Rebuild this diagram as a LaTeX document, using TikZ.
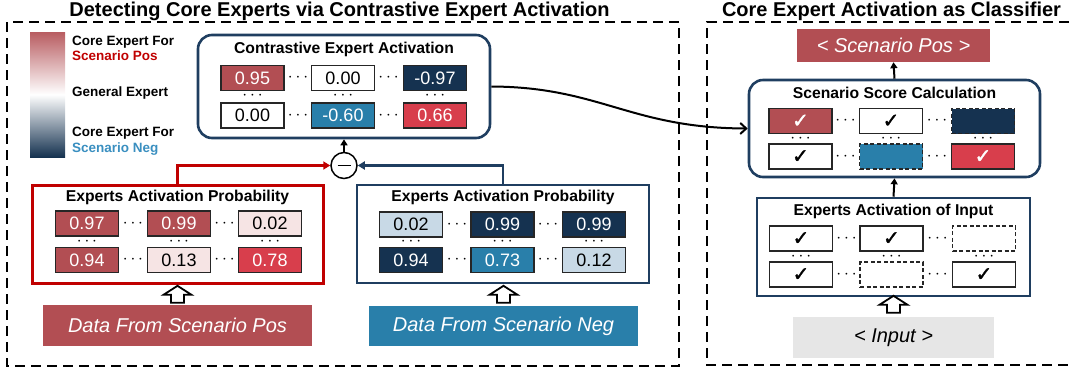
\documentclass[tikz,border=0pt]{standalone}
\usepackage{fontspec}
\setmainfont{Liberation Sans}
\newfontfamily\symfont[FakeBold=1.6]{DejaVu Sans}
\usetikzlibrary{arrows.meta,calc}
\definecolor{dred}{HTML}{B24E53}
\definecolor{bred}{HTML}{D83E4C}
\definecolor{navy}{HTML}{153250}
\definecolor{mblue}{HTML}{297FAA}
\definecolor{lpink}{HTML}{F6E4E4}
\definecolor{lblue}{HTML}{C8D9E6}
\definecolor{frame}{HTML}{1F3E60}
\definecolor{pred}{HTML}{C00000}
\definecolor{legblue}{HTML}{3A8FC0}
\definecolor{lgray}{HTML}{E6E6E6}
\newcommand\hollowarrow[1]{\draw[line width=1.8pt, fill=white, line join=miter] (#1) ++(-6.5,0) -- ++(0,-8) -- ++(-7.5,0) -- ++(14,-9) -- ++(14,9) -- ++(-7.5,0) -- ++(0,8) -- cycle;}
\begin{document}
\begin{tikzpicture}[x=1pt,y=-1pt,
  cell/.style={draw=black!85, line width=1.3pt, minimum width=63pt, minimum height=25pt, inner sep=0pt, font=\fontsize{18}{18}\selectfont},
  wcell/.style={cell, fill=#1, text=white},
  dcell/.style={cell, draw=black!85, dash pattern=on 4pt off 2.5pt},
  dotsn/.style={inner sep=0pt, font=\fontsize{19}{19}\selectfont},
  bigtitle/.style={font=\fontsize{20}{20}\selectfont\bfseries, inner sep=0pt},
  boxtitle/.style={font=\fontsize{15.7}{15.7}\selectfont\bfseries, inner sep=0pt},
  legtext/.style={font=\fontsize{13.5}{15.5}\selectfont\bfseries, align=left, anchor=west, inner sep=0pt},
  rbox/.style={draw=frame, line width=2.6pt, rounded corners=14pt, inner sep=0pt},
  sbox/.style={line width=2.6pt, inner sep=0pt},
  databox/.style={inner sep=0pt, font=\fontsize{20}{20}\selectfont\itshape},
  outer/.style={line width=2pt, dash pattern=on 10pt off 6pt},
  chk/.style={font=\symfont\fontsize{20}{20}\selectfont},
  blackarrow/.style={line width=2pt, -{Triangle[length=6pt,width=7pt]}}
]
\useasboundingbox (0,0) rectangle (1073,376);
% outer dashed frames
\draw[outer] (7,22) rectangle (679,366);
\draw[outer] (1085,22) -- (707,22) -- (707,365) -- (1085,365);
\node[bigtitle, fill=white, inner xsep=3pt] (ltitle) at (339.5,11) {Detecting Core Experts via Contrastive Expert Activation};
\node[bigtitle, fill=white, inner xsep=3pt] (rtitle) at (891.5,11) {Core Expert Activation as Classifier};
% legend
\shade[top color=dred!92, bottom color=navy, middle color=white] (30,32) rectangle (65,157);
\node[legtext] (leg1) at (72,48.5) {Core Expert For\\\textcolor{pred}{Scenario Pos}};
\node[legtext] (leg2) at (72,93) {General Expert};
\node[legtext] (leg3) at (72,141) {Core Expert For\\\textcolor{legblue}{Scenario Neg}};
% contrastive box
\node[rbox, minimum width=292pt, minimum height=103pt] (cab) at (344,86.5) {};
\node[boxtitle] (cabt) at (344,49) {Contrastive Expert Activation};
\node[wcell=dred] (c11) at (252.5,78) {0.95};
\node[cell] (c12) at (343,78) {0.00};
\node[wcell=navy] (c13) at (435,78) {-0.97};
\node[cell] (c21) at (252.5,115.5) {0.00};
\node[wcell=mblue] (c22) at (343,115.5) {-0.60};
\node[wcell=bred] (c23) at (435,115.5) {0.66};
\foreach \x/\n in {298/a,388.5/b}{\node[dotsn] (cdh1\n) at (\x,78) {$\cdots$}; \node[dotsn] (cdh2\n) at (\x,115.5) {$\cdots$};}
\foreach \x/\n in {252.5/a,343/b,435/c}{\node[dotsn] (cdv\n) at (\x,96) {$\cdots$};}
% minus circle
\node[draw, circle, line width=1.5pt, minimum size=26pt, inner sep=0pt, fill=white] (minus) at (344,165.5) {};
\draw[line width=1.5pt] ($(minus.center)+(-6.5,0)$) -- ($(minus.center)+(6.5,0)$);
\draw[blackarrow] (minus.north) -- (cab.south);
% positive probability box
\node[sbox, draw=pred, line width=3pt, minimum width=291pt, minimum height=98pt] (ppos) at (177.5,234) {};
\node[boxtitle] (ppost) at (177.5,197) {Experts Activation Probability};
\node[wcell=dred] (p11) at (87,223.5) {0.97};
\node[wcell=dred] (p12) at (179,223.5) {0.99};
\node[cell, fill=lpink] (p13) at (270,223.5) {0.02};
\node[wcell=dred] (p21) at (87,260) {0.94};
\node[cell, fill=lpink] (p22) at (179,260) {0.13};
\node[wcell=bred] (p23) at (270,260) {0.78};
\foreach \x/\n in {133/a,224.5/b}{\node[dotsn] (pdh1\n) at (\x,223.5) {$\cdots$}; \node[dotsn] (pdh2\n) at (\x,260) {$\cdots$};}
\foreach \x/\n in {87/a,179/b,270/c}{\node[dotsn] (pdv\n) at (\x,241.5) {$\cdots$};}
% negative probability box
\node[sbox, draw=frame, minimum width=292pt, minimum height=98pt] (pneg) at (503,234) {};
\node[boxtitle] (pnegt) at (503,197) {Experts Activation Probability};
\node[cell, fill=lblue] (n11) at (411,224.5) {0.02};
\node[wcell=navy] (n12) at (502.5,224.5) {0.99};
\node[wcell=navy] (n13) at (594,224.5) {0.99};
\node[wcell=navy] (n21) at (411,260) {0.94};
\node[wcell=mblue] (n22) at (502.5,260) {0.73};
\node[cell, fill=lblue] (n23) at (594,260) {0.12};
\foreach \x/\n in {457/a,548/b}{\node[dotsn] (ndh1\n) at (\x,224.5) {$\cdots$}; \node[dotsn] (ndh2\n) at (\x,260) {$\cdots$};}
\foreach \x/\n in {411/a,502.5/b,594/c}{\node[dotsn] (ndv\n) at (\x,242) {$\cdots$};}
% connectors to minus
\draw[pred, line width=2.5pt, -{Triangle[length=7pt,width=8pt]}] (ppos.north) |- (minus.west);
\draw[frame, line width=2.5pt, -{Triangle[length=7pt,width=8pt]}] (pneg.north) |- (minus.east);
% data boxes
\node[databox, fill=dred, text=white, minimum width=269pt, minimum height=41pt] (dpos) at (177.5,325.5) {Data From Scenario Pos};
\node[databox, fill=mblue, text=white, minimum width=269pt, minimum height=40pt] (dneg) at (503.5,326) {Data From Scenario Neg};
\hollowarrow{$(dpos.north)+(0,-2)$}
\hollowarrow{$(dneg.north)+(0,-3)$}
% right side
\node[databox, fill=dred, text=white, minimum width=193pt, minimum height=33pt] (outp) at (893.5,45.5) {< Scenario Pos >};
\node[rbox, minimum width=291pt, minimum height=97pt] (ssc) at (894.5,128.5) {};
\node[boxtitle] (ssct) at (894.5,93) {Scenario Score Calculation};
\node[wcell=dred, chk] (s11) at (800.5,121) {✓};
\node[cell, chk] (s12) at (891,121) {✓};
\node[dcell, fill=navy] (s13) at (983,121) {};
\node[cell, chk] (s21) at (800.5,156.5) {✓};
\node[dcell, fill=mblue] (s22) at (891,156.5) {};
\node[wcell=bred, chk] (s23) at (983,156.5) {✓};
\foreach \x/\n in {845.5/a,937/b}{\node[dotsn] (sdh1\n) at (\x,121) {$\cdots$}; \node[dotsn] (sdh2\n) at (\x,156.5) {$\cdots$};}
\foreach \x/\n in {800.5/a,891/b,983/c}{\node[dotsn] (sdv\n) at (\x,139) {$\cdots$};}
\draw[blackarrow] (ssc.north) -- (outp.south);
\node[sbox, draw=frame, minimum width=273pt, minimum height=98pt] (inp) at (893.5,247) {};
\node[boxtitle] (inpt) at (893.5,211) {Experts Activation of Input};
\node[cell, chk] (i11) at (801,238.5) {✓};
\node[cell, chk] (i12) at (891.5,238.5) {✓};
\node[dcell] (i13) at (984,238.5) {};
\node[cell, chk] (i21) at (801,274.5) {✓};
\node[dcell] (i22) at (891.5,274.5) {};
\node[cell, chk] (i23) at (984,274.5) {✓};
\foreach \x/\n in {846.5/a,937.5/b}{\node[dotsn] (idh1\n) at (\x,238.5) {$\cdots$}; \node[dotsn] (idh2\n) at (\x,274.5) {$\cdots$};}
\foreach \x/\n in {801/a,891.5/b,984/c}{\node[dotsn] (idv\n) at (\x,256.5) {$\cdots$};}
\draw[blackarrow] (inp.north) -- (ssc.south);
\node[databox, fill=lgray, minimum width=201pt, minimum height=41pt] (inbox) at (893.5,337.5) {< Input >};
\hollowarrow{$(inbox.north)+(0,-4)$}
% curve connector
\draw[line width=2pt, -{Straight Barb[length=6pt,width=11pt]}] (cab.east) .. controls (600,87) and (630,128) .. (ssc.west);
\end{tikzpicture}
\end{document}
